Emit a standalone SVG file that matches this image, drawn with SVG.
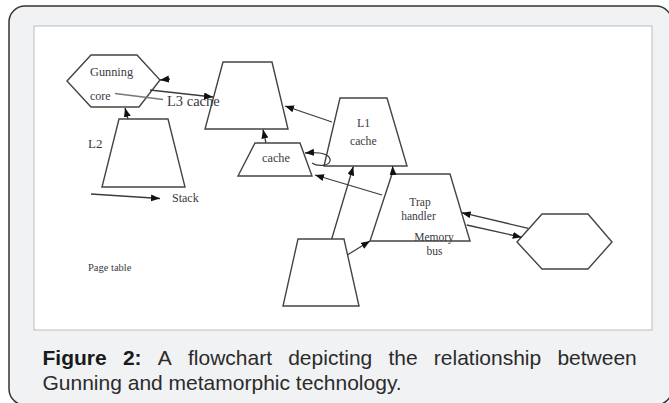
<svg xmlns="http://www.w3.org/2000/svg" width="669" height="403" viewBox="0 0 669 403">
<defs>
<style>
.shape{fill:#fff;stroke:#444;stroke-width:1.4;stroke-linejoin:miter}
.lbl{font-family:"Liberation Serif","Times New Roman",serif;fill:#3a3a40}
.con{fill:none;stroke:#3c3c3c;stroke-width:1.3}
.cap{font-family:"Liberation Sans",Arial,sans-serif;font-size:21px;fill:#2b2b2b}
</style>
<marker id="ah" markerUnits="userSpaceOnUse" markerWidth="10" markerHeight="8" refX="9" refY="3.5" orient="auto">
<path d="M0,0 L9,3.5 L0,7 z" fill="#111"/>
</marker>
</defs>
<rect x="9" y="6" width="663" height="399" rx="16" ry="16" fill="#f1f2f4" stroke="#333" stroke-width="1.5"/>
<rect x="34" y="26" width="618" height="304" fill="#fff" stroke="#bcbcbc" stroke-width="1"/>

<g id="gunning-core">
<polygon class="shape" points="67,81 91,55 137,55 160,80 139,107 91,107"/>
<text class="lbl" x="90" y="76" font-size="12.3">Gunning</text>
<text class="lbl" x="90" y="100" font-size="12">core</text>
</g>
<g id="l3-cache">
<polygon class="shape" points="223,62 272,62 288,129 205,129"/>
<text class="lbl" x="167" y="105.5" font-size="14.5">L3 cache</text>
</g>
<g id="l2">
<polygon class="shape" points="119,119 168,119 185,187 102,187"/>
<text class="lbl" x="88" y="147.5" font-size="13">L2</text>
</g>
<g id="stack">
<text class="lbl" x="172" y="202" font-size="12">Stack</text>
</g>
<g id="page-table">
<text class="lbl" x="88" y="271" font-size="10.5">Page table</text>
</g>
<g id="cache">
<polygon class="shape" points="255,143 300,143 312,176 238,176"/>
<text class="lbl" x="262" y="162" font-size="12.3">cache</text>
</g>
<g id="l1-cache">
<polygon class="shape" points="340,98 387,98 407,166 324,166"/>
<text class="lbl" x="357" y="127" font-size="12">L1</text>
<text class="lbl" x="350" y="145" font-size="11.7">cache</text>
</g>
<g id="trap-handler">
<polygon class="shape" points="392,174 450,174 470,241 370,241"/>
<text class="lbl" x="420" y="206" font-size="11.5" text-anchor="middle">Trap</text>
<text class="lbl" x="418.5" y="219.5" font-size="11.5" text-anchor="middle">handler</text>
<text class="lbl" x="434" y="240.5" font-size="11.5" text-anchor="middle">Memory</text>
<text class="lbl" x="434.5" y="254.5" font-size="11.5" text-anchor="middle">bus</text>
</g>
<g id="bottom-node">
<polygon class="shape" points="298,239 344,239 359,306 283,306"/>
</g>
<g id="right-hexagon">
<polygon class="shape" points="517,242 542,214 588,214 612,242 588,269 542,269"/>
</g>

<g id="connectors">
<line class="con" x1="150" y1="90" x2="213" y2="97" marker-end="url(#ah)"/>
<line class="con" x1="170" y1="79" x2="160" y2="80" marker-end="url(#ah)"/>
<line x1="115" y1="93.5" x2="163" y2="99.5" stroke="#777" stroke-width="1.6"/>
<line class="con" x1="128" y1="119" x2="125" y2="108" marker-end="url(#ah)"/>
<line class="con" x1="91" y1="194" x2="160" y2="198.5" marker-end="url(#ah)"/>
<line class="con" x1="332" y1="122" x2="285" y2="106" marker-end="url(#ah)"/>
<line class="con" x1="266" y1="143" x2="263" y2="129.5" marker-end="url(#ah)"/>
<path class="con" d="M312,163 C318,167 332,166 330,159 C328,153 318,152 305,153" marker-end="url(#ah)"/>
<line class="con" x1="393" y1="174" x2="392.5" y2="166" marker-end="url(#ah)"/>
<line class="con" x1="382" y1="195" x2="315" y2="175" marker-end="url(#ah)"/>
<line class="con" x1="331.7" y1="239" x2="353.3" y2="166.5" marker-end="url(#ah)"/>
<line class="con" x1="347.3" y1="255" x2="370" y2="241" marker-end="url(#ah)"/>
<line class="con" x1="528.3" y1="228.3" x2="461.7" y2="212.7" marker-end="url(#ah)"/>
<line class="con" x1="466.7" y1="225" x2="521.7" y2="237.3" marker-end="url(#ah)"/>
</g>

<g id="caption">
<text class="cap" y="365"><tspan x="42.5" font-weight="bold" fill="#1a1a1a">Figure</tspan><tspan x="122.9" font-weight="bold" fill="#1a1a1a">2:</tspan><tspan x="157.8">A</tspan><tspan x="188">flowchart</tspan><tspan x="288.2">depicting</tspan><tspan x="388.4">the</tspan><tspan x="433.8">relationship</tspan><tspan x="557.4">between</tspan></text>
<text class="cap" x="42.5" y="390">Gunning and metamorphic technology.</text>
</g>
</svg>
